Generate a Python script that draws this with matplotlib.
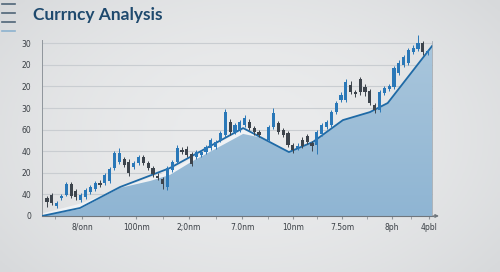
import numpy as np
import matplotlib.pyplot as plt
from matplotlib.lines import Line2D
from matplotlib.colors import LinearSegmentedColormap

# candles, one per period (index 45 has no candle)
opens = [8.3, 9.7, 4.6, 8.3, 9.7, 14.8, 11.6, 7.4, 8.8, 11.1,
         12.5, 15.3, 15.3, 16.2, 22.2, 25.0, 26.4, 25.0, 22.7, 24.5,
         27.3, 24.5, 22.2, 18.5, 17.1, 13.4, 21.3, 25.0, 30.6, 31.0,
         28.7, 27.3, 28.2, 29.6, 31.5, 31.9, 35.2, 37.5, 43.5, 38.9,
         39.8, 42.1, 43.5, 40.7, 38.9, np.nan, 35.2, 41.2, 43.1, 39.8,
         38.4, 32.9, 31.5, 35.2, 37.0, 33.8, 32.9, 38.0, 41.2, 42.1,
         48.1, 53.7, 53.7, 60.6, 57.4, 63.4, 59.7, 57.9, 51.4, 49.1,
         56.9, 58.8, 59.7, 66.2, 69.9, 70.8, 75.9, 77.3, 80.1, 75.5]
closes = [6.5, 6.0, 6.0, 9.3, 14.8, 9.3, 8.8, 9.7, 12.0, 13.4,
          15.3, 14.4, 19.0, 21.8, 29.2, 29.2, 23.6, 19.9, 24.5, 27.3,
          24.5, 22.2, 19.4, 17.6, 14.8, 22.2, 25.0, 31.5, 29.6, 28.2,
          24.1, 29.6, 29.6, 31.9, 35.2, 34.3, 38.4, 48.1, 38.9, 42.1,
          43.5, 45.4, 40.7, 38.9, 37.5, np.nan, 41.2, 47.7, 38.9, 37.5,
          32.9, 30.6, 32.4, 32.4, 34.3, 32.4, 38.9, 42.1, 43.5, 48.1,
          52.3, 56.0, 62.0, 57.4, 56.5, 57.4, 57.4, 52.3, 49.1, 57.4,
          59.3, 60.2, 68.5, 70.8, 73.6, 76.9, 77.8, 80.1, 75.9, 76.4]
highs = [9.3, 10.6, 6.9, 10.2, 15.7, 15.7, 12.5, 10.6, 13.0, 14.4,
         16.2, 16.7, 19.9, 22.7, 30.1, 31.5, 27.3, 26.4, 25.5, 28.2,
         28.2, 25.5, 23.1, 19.9, 18.1, 23.1, 25.9, 32.9, 31.9, 32.4,
         29.6, 30.6, 30.6, 32.9, 36.1, 35.2, 39.4, 49.5, 44.9, 43.1,
         44.4, 46.8, 44.9, 41.7, 39.8, np.nan, 42.1, 50.0, 44.0, 40.7,
         39.4, 33.8, 33.8, 36.6, 38.0, 34.7, 39.8, 43.1, 44.4, 49.1,
         53.2, 57.4, 63.4, 62.5, 58.3, 64.4, 61.1, 58.8, 52.3, 58.3,
         60.2, 61.1, 69.4, 72.2, 74.5, 77.8, 79.2, 83.8, 81.0, 77.3]
lows = [4.2, 5.1, 3.7, 7.4, 9.3, 8.3, 7.4, 6.5, 7.9, 10.2,
        11.6, 13.4, 14.4, 15.3, 21.3, 24.1, 22.7, 18.5, 21.8, 23.6,
        23.6, 21.3, 18.1, 16.7, 12.5, 12.0, 20.4, 24.1, 28.7, 27.3,
        23.1, 26.4, 27.3, 28.7, 30.6, 31.0, 34.3, 36.6, 37.5, 38.0,
        38.9, 41.2, 39.8, 37.5, 36.6, np.nan, 34.3, 40.3, 38.0, 36.6,
        31.9, 29.2, 30.6, 31.5, 33.3, 30.1, 28.7, 37.0, 40.3, 41.2,
        47.2, 52.8, 52.8, 56.5, 55.1, 56.0, 55.6, 51.4, 47.7, 48.1,
        56.0, 57.9, 58.8, 65.3, 69.0, 69.9, 75.0, 76.4, 74.5, 74.5]

# trend line and the two shaded areas
trend_x = [-1.04, 6.85, 15.15, 25.5, 40.7, 50.2, 55.2, 61.4, 67.0, 70.7, 79.9]
trend_y = [0.0, 3.7, 13.4, 22.2, 40.7, 29.6, 34.3, 44.4, 48.1, 52.3, 78.7]
area_x = [-1.04, 6.85, 15.15, 21.4, 25.5, 30.3, 36.5, 40.7, 44.6,
          50.2, 55.2, 61.4, 67.0, 70.7, 79.9]
area_y = [0.0, 3.2, 13.0, 16.2, 19.0, 25.5, 32.9, 38.0, 36.2,
          29.6, 34.3, 44.4, 48.1, 52.3, 78.7]
band_x = [-1.04, 6.85, 15.15, 25.5, 40.7, 44.6]
band_y = [1.4, 6.0, 13.0, 21.3, 40.3, 36.2]

ytick_vals = [0, 10, 20, 30, 40, 50, 60, 70, 80]
ytick_labels = ['0', '40', '20', '40', '60', '30', '20', '20', '30']
xtick_vals = [7.3, 18.5, 29.5, 40.5, 51.0, 61.2, 71.6, 79.3]
xtick_labels = ['8/onn', '100nm', '2;0nm', '7.0nm', '10nm', '7.5om', '8ph', '4pbl']

BLUE = '#2a78b8'
DARK = '#3d444c'

fig = plt.figure(figsize=(5, 2.72), dpi=100)

# soft grey background, lighter toward the middle
bg = fig.add_axes([0, 0, 1, 1], zorder=-10)
gx, gy = np.meshgrid(np.linspace(-1, 1, 200), np.linspace(-1, 1, 120))
bg_cmap = LinearSegmentedColormap.from_list('bg', ['#eaebec', '#d7d9db'])
bg.imshow(gx**2 * 0.6 + gy**2 * 0.4, cmap=bg_cmap, vmin=0, vmax=1,
          aspect='auto', extent=[0, 1, 0, 1])
bg.axis('off')

ax = fig.add_axes([0.084, 0.206, 0.782, 0.647])
ax.set_facecolor('none')

ax.set_yticks(ytick_vals)
ax.set_yticklabels(ytick_labels)
ax.grid(axis='y', color='#c9cdd1', lw=0.8)
ax.set_axisbelow(True)

# shaded areas
ax.fill_between(band_x, 0, band_y, color='#eff2f5', lw=0, zorder=1)
poly = ax.fill_between(area_x, 0, area_y, color='none', lw=0, zorder=2)
grad = np.linspace(0, 1, 100).reshape(-1, 1)
fill_cmap = LinearSegmentedColormap.from_list('fill', ['#8fb5d3', '#a9c6dc'])
im = ax.imshow(grad, cmap=fill_cmap, aspect='auto',
               extent=[-1.04, 79.9, 0, 80], origin='lower', zorder=2)
im.set_clip_path(poly.get_paths()[0], transform=ax.transData)
ax.set_xlim(-1.04, 80.1)
ax.set_ylim(0, 81.5)
ax.plot(trend_x, trend_y, color='#1f6aa6', lw=1.3, zorder=3)
ax.plot([79.9, 79.9], [0, 81], color='#a4acb4', lw=0.6, zorder=3)

# candlesticks
idx = np.arange(len(opens))
o = np.array(opens)
c = np.array(closes)
cols = [BLUE if cc >= oo else DARK for oo, cc in zip(o, c)]
ax.vlines(idx, lows, highs, colors=cols, lw=0.7, zorder=4, clip_on=False)
body = np.maximum(np.abs(c - o), 0.8)
ax.bar(idx, body, bottom=np.minimum(o, c), width=0.65, color=cols, zorder=5,
       clip_on=False)

for s in ['top', 'right']:
    ax.spines[s].set_visible(False)
ax.spines['left'].set_color('#8f959b')
ax.spines['left'].set_linewidth(0.7)
ax.spines['bottom'].set_color('#6f767d')
ax.spines['bottom'].set_linewidth(0.8)
ax.annotate('', xy=(81.9, 0), xytext=(79.5, 0),
            arrowprops=dict(arrowstyle='-|>', color='#6f767d', lw=0.8,
                            mutation_scale=5), annotation_clip=False)

ax.set_xticks(xtick_vals)
ax.set_xticklabels(xtick_labels)
ax.set_xticks([1.7, 12.9, 24.0, 35.0, 45.8, 56.1, 66.4, 75.5], minor=True)
ax.tick_params(axis='x', which='both', length=2, color='#8f959b', pad=3,
               labelsize=5.5, labelcolor='#3a3f45')
ax.tick_params(axis='y', length=0, pad=8, labelsize=5.5, labelcolor='#3a3f45')

fig.text(0.066, 0.945, 'Currncy Analysis', fontsize=12.5, fontweight='bold',
         family='Lato', color='#1f4a6e', va='center')

# menu icon
for yy, col in zip([0.985, 0.952, 0.919, 0.886],
                   ['#4f6578', '#4f6578', '#4f6578', '#8db2cf']):
    fig.add_artist(Line2D([0.004, 0.03], [yy, yy], color=col, lw=1.2))

fig.savefig('out.png', dpi=100)
